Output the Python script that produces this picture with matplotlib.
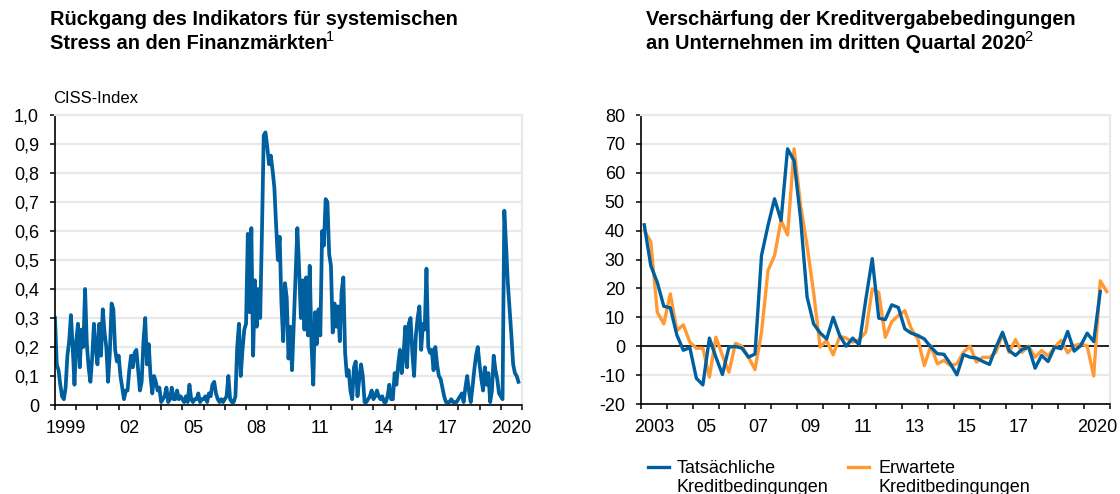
import numpy as np
import matplotlib
matplotlib.use('Agg')
import matplotlib.pyplot as plt
from matplotlib.lines import Line2D

plt.rcParams['font.family'] = ['Liberation Sans', 'DejaVu Sans']

BLUE = '#00609f'
ORANGE = '#ff9933'
GRID = '#e9e9e9'

# CISS composite indicator, monthly values starting January 1999
ciss_start = 1999
ciss = [
    0.30, 0.14, 0.12, 0.07, 0.03, 0.02, 0.06, 0.17, 0.22, 0.31, 0.20, 0.07,  # 1999
    0.22, 0.28, 0.13, 0.26, 0.20, 0.40, 0.21, 0.13, 0.08, 0.16, 0.28, 0.20,  # 2000
    0.14, 0.28, 0.17, 0.33, 0.25, 0.20, 0.08, 0.18, 0.35, 0.33, 0.19, 0.15,  # 2001
    0.17, 0.10, 0.06, 0.02, 0.05, 0.05, 0.12, 0.17, 0.13, 0.18, 0.19, 0.12,  # 2002
    0.05, 0.08, 0.22, 0.30, 0.14, 0.21, 0.10, 0.04, 0.10, 0.08, 0.05, 0.06,  # 2003
    0.01, 0.02, 0.03, 0.06, 0.01, 0.02, 0.06, 0.02, 0.02, 0.05, 0.02, 0.03,  # 2004
    0.02, 0.01, 0.03, 0.01, 0.07, 0.02, 0.01, 0.02, 0.02, 0.04, 0.01, 0.02,  # 2005
    0.02, 0.03, 0.01, 0.04, 0.03, 0.07, 0.08, 0.04, 0.02, 0.01, 0.02, 0.01,  # 2006
    0.02, 0.03, 0.10, 0.02, 0.01, 0.01, 0.03, 0.20, 0.28, 0.10, 0.19, 0.26,  # 2007
    0.28, 0.59, 0.32, 0.61, 0.17, 0.43, 0.27, 0.40, 0.30, 0.60, 0.93, 0.94,  # 2008
    0.89, 0.83, 0.86, 0.81, 0.75, 0.62, 0.50, 0.58, 0.35, 0.22, 0.42, 0.37,  # 2009
    0.16, 0.27, 0.12, 0.28, 0.45, 0.61, 0.47, 0.30, 0.43, 0.26, 0.44, 0.24,  # 2010
    0.48, 0.21, 0.07, 0.32, 0.21, 0.33, 0.24, 0.60, 0.55, 0.71, 0.70, 0.52,  # 2011
    0.48, 0.25, 0.35, 0.27, 0.34, 0.22, 0.39, 0.44, 0.18, 0.10, 0.12, 0.05,  # 2012
    0.02, 0.13, 0.15, 0.03, 0.09, 0.14, 0.10, 0.01, 0.01, 0.02, 0.03, 0.05,  # 2013
    0.02, 0.03, 0.05, 0.03, 0.02, 0.03, 0.01, 0.01, 0.03, 0.07, 0.02, 0.02,  # 2014
    0.11, 0.07, 0.14, 0.19, 0.11, 0.17, 0.27, 0.13, 0.28, 0.30, 0.18, 0.10,  # 2015
    0.24, 0.30, 0.34, 0.19, 0.28, 0.26, 0.47, 0.20, 0.18, 0.19, 0.12, 0.20,  # 2016
    0.14, 0.10, 0.09, 0.06, 0.03, 0.01, 0.01, 0.01, 0.02, 0.01, 0.01, 0.01,  # 2017
    0.02, 0.03, 0.04, 0.01, 0.06, 0.10, 0.05, 0.01, 0.06, 0.12, 0.17, 0.20,  # 2018
    0.14, 0.09, 0.05, 0.13, 0.07, 0.11, 0.01, 0.05, 0.17, 0.12, 0.09, 0.04,  # 2019
    0.03, 0.02, 0.67, 0.55, 0.42, 0.33, 0.24, 0.14, 0.11, 0.10, 0.08,        # 2020
]
ciss_xlabel_years = [1999, 2002, 2005, 2008, 2011, 2014, 2017, 2020]
ciss_xlabels = ['1999', '02', '05', '08', '11', '14', '17', '2020']
ciss_yticks = [0, 0.1, 0.2, 0.3, 0.4, 0.5, 0.6, 0.7, 0.8, 0.9, 1.0]
ciss_ylabels = ['0', '0,1', '0,2', '0,3', '0,4', '0,5', '0,6', '0,7', '0,8', '0,9', '1,0']

# Bank lending survey, net percentages, quarterly from 2003 Q1
bls_start = 2003
bls_actual = [
    42.0, 27.9, 22.1, 13.8,  # 2003
    13.3, 3.9, -1.4, -0.5,   # 2004
    -11.1, -13.4, 2.8, -3.8,  # 2005
    -9.8, -0.3, -0.1, -0.7,  # 2006
    -3.8, -2.7, 31.4, 41.8,  # 2007
    51.0, 43.5, 68.3, 64.2,  # 2008
    44.1, 17.0, 7.7, 4.6,    # 2009
    2.5, 10.0, 3.7, 0.0,     # 2010
    2.8, 0.5, 16.0, 30.3,    # 2011
    9.7, 9.2, 14.3, 13.4,    # 2012
    6.0, 4.5, 3.7, 2.5,      # 2013
    -0.3, -2.6, -2.8, -6.1,  # 2014
    -9.9, -2.9, -3.8, -4.1,  # 2015
    -5.3, -6.3, -0.3, 4.8,   # 2016
    -1.5, -3.2, -1.1, -0.3,  # 2017
    -7.6, -3.2, -5.3, -0.3,  # 2018
    -0.9, 5.1, -1.7, 0.2,    # 2019
    4.5, 1.6, 18.9,          # 2020
]
bls_expected = [
    40.0, 36.2, 11.8, 7.7,   # 2003
    18.1, 5.4, 7.4, 1.4,     # 2004
    -0.7, -0.7, -10.7, 3.1,  # 2005
    -3.2, -9.0, 1.0, 0.0,    # 2006
    -3.8, -8.1, 4.8, 26.2,   # 2007
    31.4, 43.5, 38.5, 68.3,  # 2008
    48.7, 34.7, 18.6, -0.3,  # 2009
    2.0, -3.0, 3.4, 2.8,     # 2010
    1.4, 2.3, 4.8, 19.8,     # 2011
    18.6, 3.1, 8.5, 10.6,    # 2012
    12.3, 6.0, 2.5, -6.7,    # 2013
    0.2, -6.1, -4.9, -6.7,   # 2014
    -6.1, -2.1, 0.0, -5.5,   # 2015
    -3.8, -3.9, -2.1, 4.3,   # 2016
    -2.1, 2.3, -2.1, 0.0,    # 2017
    -3.8, -1.5, -3.4, -0.3,  # 2018
    2.0, -2.3, 0.2, 0.8,     # 2019
    0.0, -10.3, 22.6, 18.9,  # 2020
]
bls_xlabel_years = [2003, 2005, 2007, 2009, 2011, 2013, 2015, 2017, 2020]
bls_xlabels = ['2003', '05', '07', '09', '11', '13', '15', '17', '2020']
bls_yticks = [-20, -10, 0, 10, 20, 30, 40, 50, 60, 70, 80]
bls_ylabels = ['-20', '-10', '0', '10', '20', '30', '40', '50', '60', '70', '80']
bls_legend = ['Tatsächliche\nKreditbedingungen', 'Erwartete\nKreditbedingungen']

W, H = 1120, 494


def px(x, y):
    return x / W, 1 - y / H


def style_axes(ax, x0, x1, yticks, ylabels, label_years, labels):
    ax.set_xlim(x0, x1)
    ax.set_ylim(yticks[0], yticks[-1])
    ax.set_yticks(yticks)
    ax.set_yticklabels(ylabels)
    ax.set_xticks(np.arange(x0, x1 + 1))
    ax.set_xticklabels([])
    ax.set_xticks([y + 0.5 for y in label_years], minor=True)
    ax.set_xticklabels(labels, minor=True)
    ax.tick_params(axis='x', which='major', direction='out', length=3.4, width=1.1)
    ax.tick_params(axis='x', which='minor', length=0, pad=11, labelsize=13)
    ax.tick_params(axis='y', direction='out', length=3.6, width=1.1, pad=8, labelsize=13)
    ax.grid(axis='y', color=GRID, linewidth=1.6)
    ax.set_axisbelow(True)
    for side in ('top', 'right'):
        ax.spines[side].set_color(GRID)
        ax.spines[side].set_linewidth(1.6)
    for side in ('left', 'bottom'):
        ax.spines[side].set_color('black')
        ax.spines[side].set_linewidth(1.2)


fig = plt.figure(figsize=(W / 100, H / 100), dpi=100)

# left panel: CISS
ax1 = fig.add_axes([55 / W, 89 / H, 467 / W, 290 / H])
ciss_x = ciss_start + np.arange(len(ciss)) / 12
ax1.plot(ciss_x, ciss, color=BLUE, linewidth=2.7)
style_axes(ax1, 1999, 2021, ciss_yticks, ciss_ylabels, ciss_xlabel_years, ciss_xlabels)

# right panel: credit standards
ax2 = fig.add_axes([641 / W, 90 / H, 469 / W, 289 / H])
style_axes(ax2, 2003, 2021, bls_yticks, bls_ylabels, bls_xlabel_years, bls_xlabels)
ax2.axhline(0, color='black', linewidth=1.2, zorder=1.5)
act_x = bls_start + (np.arange(len(bls_actual)) + 0.5) / 4
exp_x = bls_start + (np.arange(len(bls_expected)) + 0.5) / 4
ax2.plot(exp_x, bls_expected, color=ORANGE, linewidth=2.4, zorder=2)
ax2.plot(act_x, bls_actual, color=BLUE, linewidth=2.4, zorder=3)

# titles, footnote marks placed right after the second line
title_kw = dict(fontsize=14.4, fontweight='bold', va='baseline')
fig.text(*px(50, 25), 'Rückgang des Indikators für systemischen', **title_kw)
t1 = fig.text(*px(50, 49), 'Stress an den Finanzmärkten', **title_kw)
fig.text(*px(646, 25), 'Verschärfung der Kreditvergabebedingungen', **title_kw)
t2 = fig.text(*px(646, 49), 'an Unternehmen im dritten Quartal 2020', **title_kw)
fig.canvas.draw()
renderer = fig.canvas.get_renderer()
for t, mark in [(t1, '1'), (t2, '2')]:
    bb = t.get_window_extent(renderer)
    fig.text((bb.x1 - 1.5) / W, 1 - 41 / H, mark, fontsize=10.5, va='baseline')

fig.text(*px(53, 103), 'CISS-Index', fontsize=12, va='baseline')

# legend under the right panel
for (x_line, x_text), color, label in zip([(648, 677), (848, 879)], [BLUE, ORANGE], bls_legend):
    fig.add_artist(Line2D([x_line / W, (x_line + 21) / W], [1 - 466.5 / H] * 2,
                          color=color, linewidth=2.4))
    for k, line in enumerate(label.split('\n')):
        fig.text(*px(x_text, 473 + k * 19), line, fontsize=13, va='baseline')

fig.savefig('out.png', dpi=100)
